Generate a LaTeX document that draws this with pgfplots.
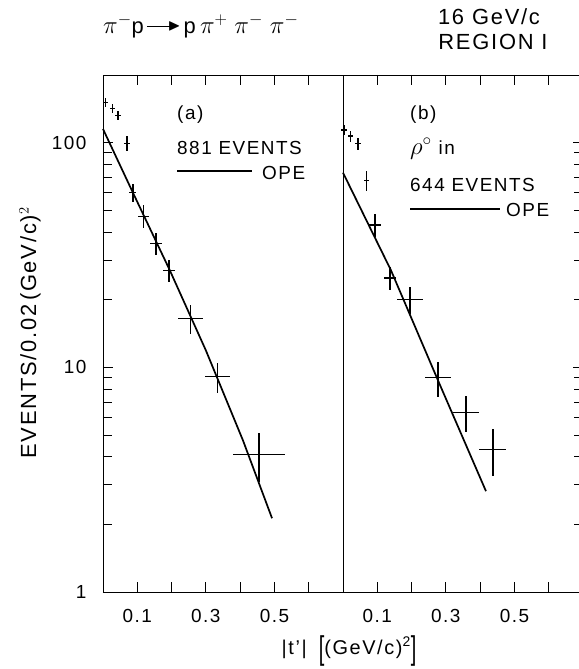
\documentclass[border=0pt]{standalone}
\usepackage{fontspec}
\setmainfont{Liberation Sans}[LetterSpace=8]
\usepackage{amssymb}
\usepackage{graphicx}
\usepackage{pgfplots}
\pgfplotsset{compat=1.18}

\newcommand\fs[1]{\fontsize{#1}{#1}\selectfont}

% |t'| distributions, events per 0.02 (GeV/c)^2
% columns: t, N, dt, dN
\pgfplotstableread{
t      N      dt     dN
0.007  151    0.008  7
0.027  142    0.008  7
0.044  132    0.008  6.5
0.070  99     0.008  7.5
0.087  60     0.010  5.5
0.118  47     0.016  5.5
0.155  35.6   0.017  4
0.193  27     0.017  3
0.255  16.5   0.036  2.5
0.334  9.1    0.037  1.4
0.455  4.1    0.076  1.0
}\alldata
\pgfplotstableread{
t      N      dt     dN
0.003  114    0.008  6
0.022  107    0.008  6
0.044  99     0.008  6
0.069  68     0.008  7
0.093  43     0.019  5
0.137  25     0.017  3
0.195  20     0.038  2.7
0.277  9.0    0.039  1.6
0.359  6.3    0.038  1.15
0.437  4.3    0.039  1.0
}\rhodata
% OPE predictions
\pgfplotstableread{
t      N
0      115
0.087  60
0.195  27
0.300  11.9
0.408  4.74
0.493  2.13
}\opeall
\pgfplotstableread{
t      N
0      73.5
0.140  27
0.277  8.75
0.417  2.81
}\operho

\pgfplotsset{
  panel/.style={
    scale only axis, width=240bp, height=517bp,
    anchor=south west,
    xmin=0, xmax=0.7, ymin=1, ymax=200,
    xtick={0.1,0.2,0.3,0.4,0.5,0.6},
    xticklabels={0.1,,0.3,,0.5,},
    ytick={1,10,100},
    minor ytick={2,3,4,5,6,7,8,9,20,30,40,50,60,70,80,90},
    tick align=inside, xtick pos=both,
    major tick length=10bp, minor tick length=9bp,
    axis line style={line width=0.9bp},
    every tick/.style={black, line width=0.9bp},
    ticklabel style={font=\fs{19}},
    xticklabel style={yshift=-14bp},
    yticklabel style={xshift=-13bp},
    clip=false,
  },
}

\begin{document}
\begin{tikzpicture}
\begin{semilogyaxis}[panel, at={(103bp,77bp)}, ytick pos=left, yticklabels={1,10,100}]
  \addplot[draw=none, mark=none,
    error bars/.cd, x dir=both, x explicit, y dir=both, y explicit,
    error mark=none, error bar style={draw=black, solid, line width=1.4bp}]
    table[x=t, y=N, x error=dt, y error=dN] {\alldata};
  \addplot[black, line width=1.7bp, mark=none] table[x=t, y=N] {\opeall};
\end{semilogyaxis}
\begin{semilogyaxis}[panel, at={(343bp,77bp)}, ytick pos=right, yticklabels={,,}]
  \addplot[draw=none, mark=none,
    error bars/.cd, x dir=both, x explicit, y dir=both, y explicit,
    error mark=none, error bar style={draw=black, solid, line width=1.4bp}]
    table[x=t, y=N, x error=dt, y error=dN] {\rhodata};
  \addplot[black, line width=1.7bp, mark=none] table[x=t, y=N] {\operho};
\end{semilogyaxis}

% panel annotations
\node[anchor=base west, font=\fs{19}, inner sep=0] at (177bp,549bp) {(a)};
\node[anchor=base west, font=\fs{19}, inner sep=0] at (177bp,514bp) {881 EVENTS};
\draw[line width=1.4bp] (177bp,498bp) -- (252bp,498bp);
\node[anchor=base west, font=\fs{19}, inner sep=0] at (262bp,489bp) {OPE};

\node[anchor=base west, font=\fs{19}, inner sep=0] at (410bp,549bp) {(b)};
\node[anchor=base west, font=\fs{19}, inner sep=0] at (410bp,514bp) {\fs{24}$\rho^{\circ}$\fs{19} in};
\node[anchor=base west, font=\fs{19}, inner sep=0] at (410bp,477bp) {644 EVENTS};
\draw[line width=1.4bp] (410bp,460bp) -- (500bp,460bp);
\node[anchor=base west, font=\fs{19}, inner sep=0] at (506bp,452bp) {OPE};

% titles
\node[anchor=base west, font=\fs{27}, inner sep=0] at (103bp,635bp)
  {$\pi^-$\fs{22}p\kern3bp\rule[6.5bp]{24bp}{1.3bp}\kern-3bp\raisebox{3.3bp}{\scalebox{0.75}{$\blacktriangleright$}}\kern3bp p\fs{27}$\,\pi^+\;\pi^-\;\pi^-$};
\node[anchor=base, font=\fs{22}, inner sep=0] at (489bp,644bp) {16 GeV/c};
\node[anchor=base, font=\fs{22}, inner sep=0] at (493bp,619bp) {REGION I};

% axis titles
\node[rotate=90, font=\fs{22}, inner sep=0] at (30bp,336bp) {EVENTS/0.02\,(GeV/c)$^2$};
\node[font=\fs{20}, inner sep=0, anchor=base] at (349bp,15bp)
  {|t'|\kern12bp\raisebox{-5bp}{\scalebox{1}[1.65]{[}}(GeV/c)\textsuperscript{2}\raisebox{-5bp}{\scalebox{1}[1.65]{]}}};

\pgfresetboundingbox
\path[use as bounding box] (0,0) rectangle (579bp,669bp);
\end{tikzpicture}
\end{document}
